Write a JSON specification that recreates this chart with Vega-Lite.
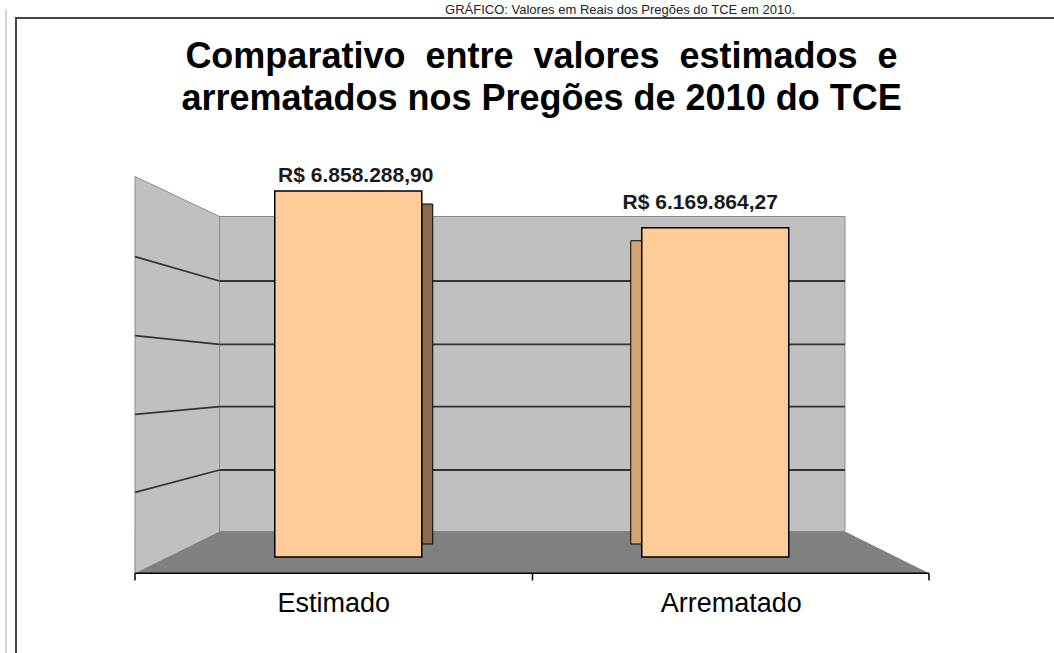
{
  "$schema": "https://vega.github.io/schema/vega-lite/v6.json",
  "width": 795,
  "height": 397,
  "autosize": {"type": "none"},
  "padding": {"left": 135, "top": 176, "right": 124, "bottom": 80},
  "background": "white",
  "config": {"view": {"stroke": null}, "font": "Liberation Sans"},
  "title": {
    "text": ["Comparativo\u00a0 entre\u00a0 valores\u00a0 estimados\u00a0 e", "arrematados nos Pregões de 2010 do TCE"],
    "font": "Liberation Sans",
    "fontSize": 36,
    "fontWeight": "bold",
    "lineHeight": 42,
    "color": "#000",
    "anchor": "middle",
    "frame": "group",
    "offset": -114,
    "dx": 9
  },
  "data": {"values": [
    {"cat": "Estimado", "valor": 6858288.90, "rotulo": "R$ 6.858.288,90"},
    {"cat": "Arrematado", "valor": 6169864.27, "rotulo": "R$ 6.169.864,27"}
  ]},
  "resolve": {"scale": {"x": "independent"}, "axis": {"x": "independent"}},
  "layer": [
    {
      "layer": [
        {"data": {"values": [{}]}, "mark": {"type": "rule", "stroke": "#D5D5D5", "strokeWidth": 2},
         "encoding": {"x": {"datum": -16.23, "type": "quantitative", "scale": {"domain": [0, 100], "nice": false, "zero": false}, "axis": null},
                      "y": {"datum": -2679604, "type": "quantitative", "axis": null}, "y2": {"datum": 10268693}}},
        {"data": {"values": [{}]}, "mark": {"type": "rect", "filled": false, "stroke": "#444", "strokeWidth": 2},
         "encoding": {"x": {"datum": -14.97, "type": "quantitative", "axis": null}, "x2": {"datum": 121.38},
                      "y": {"datum": -2679604, "type": "quantitative", "axis": null}, "y2": {"datum": 10100046}}},
        {"data": {"values": [{}]}, "mark": {"type": "text", "text": "GRÁFICO: Valores em Reais dos Pregões do TCE em 2010.", "fontSize": 13, "align": "center", "baseline": "alphabetic", "fill": "#222"},
         "encoding": {"x": {"datum": 61.01, "type": "quantitative", "axis": null}, "y": {"datum": 10175000, "type": "quantitative", "axis": null}}},
        {"data": {"values": [{}]}, "mark": {"type": "rect", "fill": "#C0C0C0"},
         "encoding": {"x": {"datum": 0, "type": "quantitative", "axis": null}, "x2": {"datum": 10.629},
                      "y": {"datum": 477832, "type": "quantitative", "axis": null}, "y2": {"datum": 7129996}}},
        {"data": {"values": [{}]}, "mark": {"type": "rule", "stroke": "white", "strokeWidth": 38},
         "encoding": {"x": {"datum": 1.023, "type": "quantitative", "axis": null}, "x2": {"datum": 11.652},
                      "y": {"datum": 7451756, "type": "quantitative", "axis": null}, "y2": {"datum": 6702215}}},
        {"data": {"values": [{}]}, "mark": {"type": "rect", "fill": "#C0C0C0", "stroke": "#8C8C8C", "strokeWidth": 1},
         "encoding": {"x": {"datum": 10.629, "type": "quantitative", "axis": null}, "x2": {"datum": 89.308},
                      "y": {"datum": 477832, "type": "quantitative", "axis": null}, "y2": {"datum": 6380456}}},
        {"data": {"values": [{}]}, "mark": {"type": "rect", "fill": "#808080"},
         "encoding": {"x": {"datum": 0, "type": "quantitative", "axis": null}, "x2": {"datum": 99.874},
                      "y": {"datum": -305437, "type": "quantitative", "axis": null}, "y2": {"datum": 477832}}},
        {"data": {"values": [{}]}, "mark": {"type": "rule", "stroke": "#C0C0C0", "strokeWidth": 39},
         "encoding": {"x": {"datum": -1.088, "type": "quantitative", "axis": null}, "x2": {"datum": 9.541},
                      "y": {"datum": 22111, "type": "quantitative", "axis": null}, "y2": {"datum": 805380}}},
        {"data": {"values": [{}]}, "mark": {"type": "rule", "stroke": "white", "strokeWidth": 39},
         "encoding": {"x": {"datum": 90.401, "type": "quantitative", "axis": null}, "x2": {"datum": 100.967},
                      "y": {"datum": 805005, "type": "quantitative", "axis": null}, "y2": {"datum": 21737}}},
        {"data": {"values": [{}]}, "mark": {"type": "rule", "stroke": "white", "strokeWidth": 22},
         "encoding": {"x": {"datum": -1.447, "type": "quantitative", "axis": null},
                      "y": {"datum": 768278, "type": "quantitative", "axis": null}, "y2": {"datum": -337293}}},
        {"data": {"values": [{}]}, "mark": {"type": "rule", "stroke": "#8C8C8C", "strokeWidth": 1},
         "encoding": {"x": {"datum": 0, "type": "quantitative", "axis": null},
                      "y": {"datum": -305437, "type": "quantitative", "axis": null}, "y2": {"datum": 7129996}}},
        {"data": {"values": [{}]}, "mark": {"type": "rule", "stroke": "#8C8C8C", "strokeWidth": 1},
         "encoding": {"x": {"datum": 0, "type": "quantitative", "axis": null}, "x2": {"datum": 10.629},
                      "y": {"datum": 7129996, "type": "quantitative", "axis": null}, "y2": {"datum": 6380456}}},
        {"data": {"values": [{}]}, "mark": {"type": "rule", "stroke": "#8C8C8C", "strokeWidth": 1},
         "encoding": {"x": {"datum": 10.629, "type": "quantitative", "axis": null},
                      "y": {"datum": 477832, "type": "quantitative", "axis": null}, "y2": {"datum": 6380456}}},
        {"data": {"values": [{}]}, "mark": {"type": "rule", "stroke": "#333", "strokeWidth": 1.8},
         "encoding": {"x": {"datum": 10.629, "type": "quantitative", "axis": null}, "x2": {"datum": 89.308},
                      "y": {"datum": 5171823, "type": "quantitative", "axis": null}}},
        {"data": {"values": [{}]}, "mark": {"type": "rule", "stroke": "#333", "strokeWidth": 1.8},
         "encoding": {"x": {"datum": 10.629, "type": "quantitative", "axis": null}, "x2": {"datum": 89.308},
                      "y": {"datum": 3985677, "type": "quantitative", "axis": null}}},
        {"data": {"values": [{}]}, "mark": {"type": "rule", "stroke": "#333", "strokeWidth": 1.8},
         "encoding": {"x": {"datum": 10.629, "type": "quantitative", "axis": null}, "x2": {"datum": 89.308},
                      "y": {"datum": 2816395, "type": "quantitative", "axis": null}}},
        {"data": {"values": [{}]}, "mark": {"type": "rule", "stroke": "#333", "strokeWidth": 1.8},
         "encoding": {"x": {"datum": 10.629, "type": "quantitative", "axis": null}, "x2": {"datum": 89.308},
                      "y": {"datum": 1630249, "type": "quantitative", "axis": null}}},
        {"data": {"values": [{}]}, "mark": {"type": "rule", "stroke": "#333", "strokeWidth": 1.8},
         "encoding": {"x": {"datum": 0, "type": "quantitative", "axis": null}, "x2": {"datum": 10.629},
                      "y": {"datum": 5627169, "type": "quantitative", "axis": null}, "y2": {"datum": 5171823}}},
        {"data": {"values": [{}]}, "mark": {"type": "rule", "stroke": "#333", "strokeWidth": 1.8},
         "encoding": {"x": {"datum": 0, "type": "quantitative", "axis": null}, "x2": {"datum": 10.629},
                      "y": {"datum": 4146828, "type": "quantitative", "axis": null}, "y2": {"datum": 3985677}}},
        {"data": {"values": [{}]}, "mark": {"type": "rule", "stroke": "#333", "strokeWidth": 1.8},
         "encoding": {"x": {"datum": 0, "type": "quantitative", "axis": null}, "x2": {"datum": 10.629},
                      "y": {"datum": 2673983, "type": "quantitative", "axis": null}, "y2": {"datum": 2816395}}},
        {"data": {"values": [{}]}, "mark": {"type": "rule", "stroke": "#333", "strokeWidth": 1.8},
         "encoding": {"x": {"datum": 0, "type": "quantitative", "axis": null}, "x2": {"datum": 10.629},
                      "y": {"datum": 1212380, "type": "quantitative", "axis": null}, "y2": {"datum": 1630249}}},
        {"data": {"values": [{}]}, "mark": {"type": "rule", "stroke": "#000", "strokeWidth": 1.5},
         "encoding": {"x": {"datum": 0, "type": "quantitative", "axis": null}, "x2": {"datum": 99.874},
                      "y": {"datum": -305437, "type": "quantitative", "axis": null}}},
        {"data": {"values": [{}]}, "mark": {"type": "rule", "stroke": "#000", "strokeWidth": 1.5},
         "encoding": {"x": {"datum": 0, "type": "quantitative", "axis": null},
                      "y": {"datum": -305437, "type": "quantitative", "axis": null}, "y2": {"datum": -440355}}},
        {"data": {"values": [{}]}, "mark": {"type": "rule", "stroke": "#000", "strokeWidth": 1.5},
         "encoding": {"x": {"datum": 50, "type": "quantitative", "axis": null},
                      "y": {"datum": -305437, "type": "quantitative", "axis": null}, "y2": {"datum": -440355}}},
        {"data": {"values": [{}]}, "mark": {"type": "rule", "stroke": "#000", "strokeWidth": 1.5},
         "encoding": {"x": {"datum": 99.874, "type": "quantitative", "axis": null},
                      "y": {"datum": -305437, "type": "quantitative", "axis": null}, "y2": {"datum": -440355}}}
      ]
    },
    {
      "encoding": {
        "x": {"field": "cat", "type": "nominal", "sort": ["Estimado", "Arrematado"],
              "scale": {"paddingInner": 0, "paddingOuter": 0},
              "axis": {"title": null, "domain": false, "ticks": false, "labelAngle": 0, "labelFont": "Liberation Sans", "labelFontSize": 27, "labelColor": "#000", "labelPadding": 17, "zindex": 1}},
        "y": {"field": "valor", "type": "quantitative", "scale": {"domain": [-299816, 7139365], "nice": false, "zero": false}, "axis": null}
      },
      "layer": [
        {"transform": [{"filter": "datum.cat === 'Estimado'"}],
         "mark": {"type": "bar", "width": 11, "xOffset": 93.5, "yOffset": 13, "y2Offset": -13, "fill": "#8C6B4A", "stroke": "#000", "strokeWidth": 1},
         "encoding": {"y2": {"datum": 0}}},
        {"transform": [{"filter": "datum.cat === 'Estimado'"}],
         "mark": {"type": "bar", "width": 147, "xOffset": 14.5, "fill": "#FFCC99", "stroke": "#000", "strokeWidth": 1.5},
         "encoding": {"y2": {"datum": 0}}},
        {"transform": [{"filter": "datum.cat === 'Arrematado'"}],
         "mark": {"type": "bar", "width": 11, "xOffset": -95, "yOffset": 13, "y2Offset": -13, "fill": "#D4A373", "stroke": "#000", "strokeWidth": 1},
         "encoding": {"y2": {"datum": 0}}},
        {"transform": [{"filter": "datum.cat === 'Arrematado'"}],
         "mark": {"type": "bar", "width": 147, "xOffset": -16, "fill": "#FFCC99", "stroke": "#000", "strokeWidth": 1.5},
         "encoding": {"y2": {"datum": 0}}},
        {"transform": [{"filter": "datum.cat === 'Estimado'"}],
         "mark": {"type": "text", "xOffset": 22, "dy": -9, "baseline": "alphabetic", "align": "center", "font": "Liberation Sans", "fontSize": 21, "fontWeight": "bold", "fill": "#1a1a1a"},
         "encoding": {"text": {"field": "rotulo"}}},
        {"transform": [{"filter": "datum.cat === 'Arrematado'"}],
         "mark": {"type": "text", "xOffset": -31, "dy": -19, "baseline": "alphabetic", "align": "center", "font": "Liberation Sans", "fontSize": 21, "fontWeight": "bold", "fill": "#1a1a1a"},
         "encoding": {"text": {"field": "rotulo"}}}
      ]
    }
  ]
}
